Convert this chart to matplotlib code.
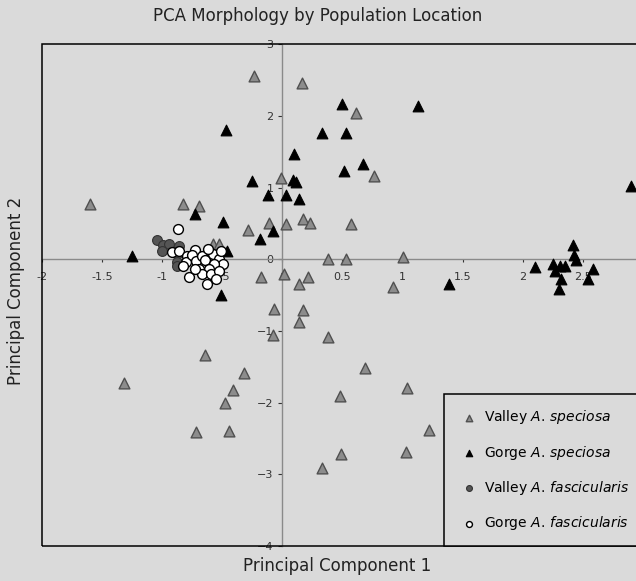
import matplotlib
matplotlib.use("Agg")
import matplotlib.pyplot as plt
from matplotlib.patches import Rectangle

# PC scores per group (PC1, PC2)
valley_sp_x = [-1.60, -1.32, -0.24, 0.16, 0.61, 0.76, -0.83, -0.69, -0.58, -0.53, -0.29,
               -0.01, -0.11, 0.03, 0.17, 0.23, 0.57, 0.38, 0.53, 1.00, -0.18, 0.01, 0.21,
               0.14, -0.07, 0.17, 0.14, -0.08, 0.38, -0.64, -0.32, -0.41, -0.48, -0.72,
               -0.44, 0.92, 0.69, 1.04, 0.48, 1.22, 0.49, 1.03, 0.33]
valley_sp_y = [0.77, -1.73, 2.56, 2.46, 2.04, 1.16, 0.77, 0.74, 0.21, 0.21, 0.41,
               1.13, 0.51, 0.49, 0.56, 0.51, 0.49, 0.01, 0.01, 0.03, -0.24, -0.21, -0.24,
               -0.35, -0.69, -0.71, -0.88, -1.05, -1.09, -1.34, -1.58, -1.82, -2.01, -2.41,
               -2.39, -0.38, -1.52, -1.80, -1.90, -2.38, -2.71, -2.69, -2.91]

gorge_sp_x = [-0.47, 0.33, 0.10, -0.25, 0.09, 0.11, -0.12, 0.03, 0.14, -0.73, -0.49,
              -0.08, -0.19, -0.46, -1.25, 0.50, 1.13, 0.53, 0.67, 0.51, -0.51, 1.39,
              2.90, 2.42, 2.43, 2.44, 2.10, 2.25, 2.27, 2.31, 2.35, 2.32, 2.30, 2.58, 2.54]
gorge_sp_y = [1.80, 1.76, 1.47, 1.09, 1.10, 1.08, 0.89, 0.90, 0.84, 0.63, 0.52,
              0.39, 0.28, 0.12, 0.04, 2.16, 2.14, 1.76, 1.33, 1.23, -0.50, -0.34,
              1.02, 0.20, 0.06, -0.01, -0.11, -0.07, -0.16, -0.09, -0.10, -0.28, -0.42, -0.14, -0.28]

valley_fa_x = [-1.04, -0.99, -0.94, -0.86, -1.00, -0.88, -0.88, -0.88]
valley_fa_y = [0.27, 0.20, 0.21, 0.18, 0.11, 0.07, -0.04, -0.10]

gorge_fa_x = [-0.87, -0.92, -0.86, -0.79, -0.80, -0.73, -0.75, -0.72, -0.67, -0.64, -0.58,
              -0.53, -0.49, -0.57, -0.61, -0.69, -0.67, -0.59, -0.53, -0.78, -0.55, -0.63,
              -0.73, -0.83, -0.51, -0.62]
gorge_fa_y = [0.42, 0.10, 0.11, 0.04, -0.04, 0.13, 0.06, -0.03, 0.04, -0.01, 0.07,
              0.01, -0.07, -0.07, -0.13, -0.13, -0.20, -0.20, -0.17, -0.24, -0.28, -0.35,
              -0.14, -0.10, 0.11, 0.14]

xticks = [-2, -1.5, -1, -0.5, 0, 0.5, 1, 1.5, 2, 2.5]
xtick_labels = ["-2", "-1.5", "-1", "-.5", "0", "0.5", "1", "1.5", "2", "2.5"]
yticks = [-4, -3, -2, -1, 0, 1, 2, 3]

bg = "#dadada"
plt.rcParams["mathtext.fontset"] = "dejavusans"

fig = plt.figure(figsize=(6.36, 5.81), dpi=100, facecolor=bg)
ax = fig.add_axes([0.066, 0.060, 0.945, 0.864], facecolor=bg)

ax.scatter(valley_sp_x, valley_sp_y, marker="^", s=60, facecolor="#8c8c8c",
           edgecolor="#505050", linewidth=1.0, label=r"Valley $\mathit{A.\,speciosa}$", zorder=3)
ax.scatter(gorge_sp_x, gorge_sp_y, marker="^", s=60, facecolor="black",
           edgecolor="black", linewidth=0.8, label=r"Gorge $\mathit{A.\,speciosa}$", zorder=3)
ax.scatter(valley_fa_x, valley_fa_y, marker="o", s=50, facecolor="#555555",
           edgecolor="#333333", linewidth=0.8, label=r"Valley $\mathit{A.\,fascicularis}$", zorder=3)
ax.scatter(gorge_fa_x, gorge_fa_y, marker="o", s=50, facecolor="white",
           edgecolor="black", linewidth=1.0, label=r"Gorge $\mathit{A.\,fascicularis}$", zorder=4)

ax.set_xlim(-2, 3)
ax.set_ylim(-4, 3)

# axes cross at the origin, frame drawn separately
for side in ["top", "right"]:
    ax.spines[side].set_visible(False)
for side in ["left", "bottom"]:
    ax.spines[side].set_position(("data", 0))
    ax.spines[side].set_color("#8a8a8a")
    ax.spines[side].set_linewidth(1.0)
ax.add_patch(Rectangle((0, 0), 1, 1, transform=ax.transAxes, fill=False,
                       edgecolor="black", linewidth=1.1, clip_on=False, zorder=5))

ax.set_xticks(xticks)
ax.set_xticklabels(xtick_labels)
ax.set_yticks(yticks)
ax.tick_params(axis="both", labelsize=8, colors="#333333", length=3, width=0.8)
ax.tick_params(axis="x", length=2, pad=7)

fig.text(0.5, 0.972, "PCA Morphology by Population Location", ha="center", va="center",
         fontsize=12, color="#222222")
fig.text(0.53, 0.026, "Principal Component 1", ha="center", va="center",
         fontsize=12, color="#222222")
fig.text(0.025, 0.50, "Principal Component 2", ha="center", va="center",
         rotation=90, fontsize=12, color="#222222")

leg = ax.legend(loc="lower right", bbox_to_anchor=(1.0, 0.0), borderaxespad=0,
                fontsize=10, markerscale=0.6, handlelength=1.6, handletextpad=0.3,
                labelspacing=1.25, borderpad=1.0, frameon=True, fancybox=False)
leg.get_frame().set_facecolor(bg)
leg.get_frame().set_edgecolor("black")
leg.get_frame().set_linewidth(1.1)
leg.get_frame().set_alpha(1)
leg.set_zorder(6)

fig.savefig("out.png", dpi=100, facecolor=bg)
